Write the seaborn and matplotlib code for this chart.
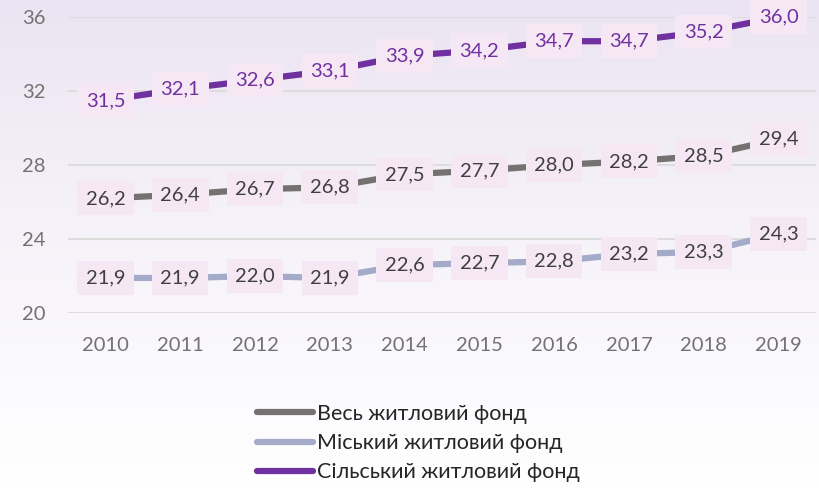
import numpy as np
import pandas as pd
import matplotlib.pyplot as plt
import seaborn as sns
from matplotlib.colors import LinearSegmentedColormap

# Дані
years = ["2010", "2011", "2012", "2013", "2014", "2015", "2016", "2017", "2018", "2019"]
vsi = [26.2, 26.4, 26.7, 26.8, 27.5, 27.7, 28.0, 28.2, 28.5, 29.4]
misky = [21.9, 21.9, 22.0, 21.9, 22.6, 22.7, 22.8, 23.2, 23.3, 24.3]
silsky = [31.5, 32.1, 32.6, 33.1, 33.9, 34.2, 34.7, 34.7, 35.2, 36.0]
series_names = ["Весь житловий фонд", "Міський житловий фонд", "Сільський житловий фонд"]
colors = ["#767171", "#a3abc9", "#7030a0"]
label_colors = ["#404040", "#404040", "#7030a0"]

data = pd.DataFrame({
    "Рік": years * 3,
    "Значення": vsi + misky + silsky,
    "Серія": [s for s in series_names for _ in years],
})

sns.set_theme(style="white")
plt.rcParams["font.family"] = ["Lato", "DejaVu Sans"]

fig = plt.figure(figsize=(8.2, 4.9), dpi=100)

# фон з градієнтом
bg = fig.add_axes([0, 0, 1, 1], zorder=-10)
cmap = LinearSegmentedColormap.from_list("bg", [(0, "#ebe4f2"), (0.45, "#f5f2f9"), (0.78, "#fbfafd"), (1, "#ffffff")])
grad = np.linspace(0, 1, 256).reshape(-1, 1)
bg.imshow(grad, aspect="auto", cmap=cmap, extent=[0, 1, 0, 1], origin="upper")
bg.axis("off")

ax = fig.add_axes([0.083, 0.361, 0.912, 0.604])
ax.patch.set_alpha(0)

sns.lineplot(data=data, x="Рік", y="Значення", hue="Серія", hue_order=series_names,
             palette=colors, linewidth=4.5, ax=ax, legend=False, sort=False)

# підписи значень
for vals, c in zip([vsi, misky, silsky], label_colors):
    for i, v in enumerate(vals):
        ax.text(i, v, f"{v:.1f}".replace(".", ","), ha="center", va="center",
                fontsize=14.5, color=c, zorder=5,
                bbox=dict(boxstyle="square,pad=0.42", fc="#f5e8f4", ec="none"))

ax.set_ylim(20, 36)
ax.set_xlim(-0.5, 9.5)
ax.set_yticks([20, 24, 28, 32, 36])
ax.yaxis.grid(True, color="#d9d9d9", linewidth=1.2)
ax.set_axisbelow(True)
for s in ax.spines.values():
    s.set_visible(False)
ax.set_xlabel("")
ax.set_ylabel("")
ax.tick_params(axis="both", colors="#767171", labelsize=14.5, length=0)
ax.tick_params(axis="x", pad=17)
ax.tick_params(axis="y", pad=16)

# легенда
handles = [plt.Line2D([0], [0], color=c, linewidth=4.5, solid_capstyle="round") for c in colors]
fig.legend(handles, series_names, loc="upper center", bbox_to_anchor=(0.51, 0.215),
           frameon=False, fontsize=15.5, handlelength=2.6, handletextpad=0.2,
           labelspacing=0.42, labelcolor="#262626")

fig.savefig("out.png", dpi=100)
